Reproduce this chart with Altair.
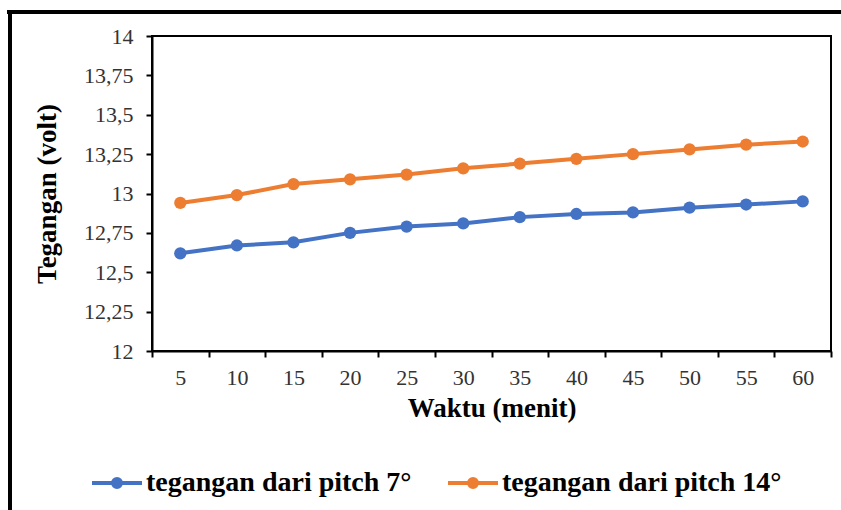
import altair as alt
import pandas as pd

waktu = [5, 10, 15, 20, 25, 30, 35, 40, 45, 50, 55, 60]
pitch7 = [12.62, 12.67, 12.69, 12.75, 12.79, 12.81, 12.85, 12.87, 12.88, 12.91, 12.93, 12.95]
pitch14 = [12.94, 12.99, 13.06, 13.09, 13.12, 13.16, 13.19, 13.22, 13.25, 13.28, 13.31, 13.33]
series_names = ["tegangan dari pitch 7°", "tegangan dari pitch 14°"]
series_colors = ["#4472C4", "#ED7D31"]
y_ticks = [12, 12.25, 12.5, 12.75, 13, 13.25, 13.5, 13.75, 14]

rows = []
for name, vals in zip(series_names, [pitch7, pitch14]):
    for w, v in zip(waktu, vals):
        rows.append({"Waktu": str(w), "Tegangan": v, "Seri": name})
df = pd.DataFrame(rows)

W, H = 679, 315
FONT = "Liberation Serif"

sym_path = "M-1,0L1,0M-0.16,0A0.16,0.16,0,1,1,0.16,0A0.16,0.16,0,1,1,-0.16,0Z"

legend = alt.Legend(
    title=None, orient="none", direction="horizontal", columns=2,
    legendX=-62, legendY=420,
    symbolType=sym_path, symbolSize=2500, symbolStrokeWidth=4,
    labelFontSize=28, labelFont=FONT, labelFontWeight="bold",
    labelColor="black", labelOffset=2, columnPadding=28, labelLimit=400,
)
cscale = alt.Scale(domain=series_names, range=series_colors)

x_enc = alt.X("Waktu:N", sort=[str(w) for w in waktu], bandPosition=0.5,
              scale=alt.Scale(type="band", paddingInner=0, paddingOuter=0),
              axis=alt.Axis(title="Waktu (menit)", labelAngle=0, tickBand="extent",
                            labelFontSize=22, labelPadding=10, titlePadding=7))
y_enc = alt.Y("Tegangan:Q", scale=alt.Scale(domain=[12, 14], nice=False, zero=False),
              axis=alt.Axis(title="Tegangan (volt)", values=y_ticks,
                            labelExpr="replace(toString(datum.value), '.', ',')",
                            labelFontSize=22, labelPadding=13, titlePadding=22))

lines = alt.Chart(df).mark_line(strokeWidth=4).encode(
    x=x_enc, y=y_enc,
    stroke=alt.Stroke("Seri:N", sort=series_names, scale=cscale, legend=legend),
    detail="Seri:N",
)
points = alt.Chart(df).mark_point(filled=True, size=150, opacity=1).encode(
    x=x_enc, y=y_enc,
    fill=alt.Fill("Seri:N", sort=series_names, scale=cscale, legend=legend),
)

border_left = alt.Chart(df).mark_rule(color="black", strokeWidth=3).encode(
    x=alt.value(-142), y=alt.value(-25), y2=alt.value(H + 200))
border_top = alt.Chart(df).mark_rule(color="black", strokeWidth=3).encode(
    x=alt.value(-145), x2=alt.value(W + 30), y=alt.value(-24))

chart = alt.layer(lines, points, border_left, border_top).properties(
    width=W, height=H,
    autosize=alt.AutoSizeParams(type="none"),
    padding={"left": 152, "top": 36, "right": 10, "bottom": 159},
).configure_view(
    stroke="black", strokeWidth=2
).configure_axis(
    labelFont=FONT, titleFont=FONT, labelColor="#333333", titleColor="black",
    titleFontSize=27, titleFontWeight="bold",
    domainColor="black", domainWidth=2, tickColor="black", tickWidth=2, tickSize=6,
    grid=False,
)

chart.save("out.html", embed_options={"renderer": "svg", "actions": False})
